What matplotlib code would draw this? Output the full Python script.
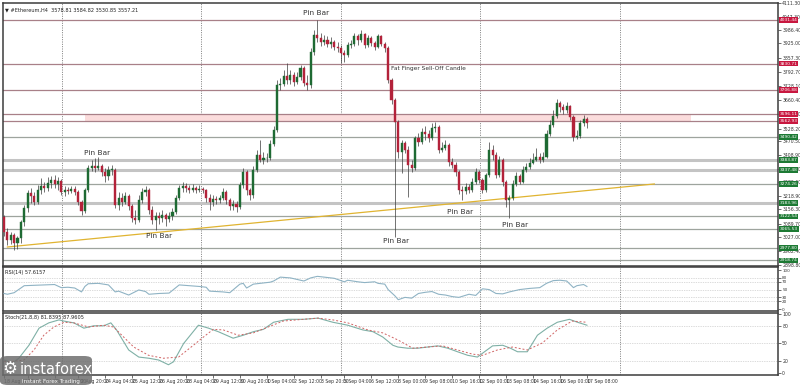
import numpy as np
import matplotlib
matplotlib.use("Agg")
import matplotlib.pyplot as plt
import matplotlib.transforms as mtransforms
from matplotlib.patches import FancyBboxPatch

########################################################
# DATA  (Ethereum H4, prices)
########################################################

first_open = 3120

closes = [
    3051, 3014, 3037, 3000, 3023, 3097, 3162, 3231, 3218, 3190,
    3245, 3264, 3255, 3278, 3292, 3273, 3287, 3236, 3245, 3241,
    3250, 3236, 3190, 3148, 3245, 3347, 3356, 3347, 3356, 3329,
    3310, 3338, 3338, 3176, 3208, 3190, 3218, 3171, 3116, 3106,
    3199, 3236, 3245, 3153, 3106, 3125, 3116, 3130, 3111, 3125,
    3144, 3208, 3255, 3264, 3255, 3245, 3255, 3245, 3250, 3245,
    3208, 3190, 3204, 3199, 3208, 3236, 3199, 3171, 3180, 3167,
    3268, 3329, 3245, 3222, 3338, 3407, 3384, 3393, 3393, 3458,
    3523, 3731, 3736, 3773, 3755, 3778, 3745, 3769, 3810, 3741,
    3731, 3884, 3963, 3949, 3931, 3940, 3921, 3931, 3907, 3903,
    3880, 3870, 3917, 3921, 3958, 3940, 3968, 3917, 3949, 3926,
    3907, 3958, 3921, 3903, 3755, 3662, 3560, 3421, 3463, 3431,
    3361, 3347, 3486, 3468, 3514, 3505, 3486, 3532, 3537, 3431,
    3440, 3454, 3375, 3361, 3329, 3245, 3241, 3259, 3245, 3282,
    3329, 3292, 3245, 3315, 3431, 3407, 3315, 3384, 3282, 3199,
    3208, 3273, 3310, 3282, 3338, 3352, 3370, 3384, 3398, 3384,
    3398, 3505, 3546, 3588, 3648, 3630, 3616, 3634, 3583, 3491,
    3495, 3556, 3574, 3557]

highs = [
    3130, 3069, 3051, 3046, 3032, 3106, 3176, 3245, 3255, 3236,
    3268, 3301, 3282, 3306, 3310, 3315, 3306, 3296, 3264, 3259,
    3264, 3264, 3245, 3199, 3255, 3361, 3384, 3393, 3398, 3366,
    3347, 3356, 3361, 3347, 3236, 3231, 3236, 3227, 3180, 3153,
    3222, 3255, 3264, 3255, 3171, 3144, 3144, 3153, 3139, 3144,
    3162, 3222, 3268, 3282, 3278, 3268, 3273, 3264, 3268, 3259,
    3250, 3227, 3222, 3218, 3222, 3255, 3245, 3208, 3199, 3194,
    3282, 3347, 3338, 3255, 3356, 3431, 3477, 3421, 3417, 3477,
    3542, 3755, 3764, 3801, 3833, 3801, 3792, 3792, 3824, 3819,
    3778, 3903, 3986, 4032, 3972, 3963, 3958, 3954, 3940, 3931,
    3917, 3894, 3931, 3940, 3972, 3968, 3986, 3972, 3963, 3958,
    3935, 3968, 3963, 3931, 3912, 3764, 3671, 3569, 3477, 3472,
    3449, 3384, 3495, 3509, 3532, 3542, 3523, 3556, 3560, 3546,
    3468, 3477, 3463, 3393, 3375, 3338, 3264, 3278, 3273, 3301,
    3347, 3338, 3301, 3324, 3468, 3454, 3421, 3403, 3393, 3292,
    3222, 3292, 3329, 3319, 3356, 3370, 3393, 3417, 3440, 3417,
    3421, 3523, 3569, 3616, 3667, 3657, 3643, 3653, 3639, 3593,
    3523, 3569, 3593, 3585]

lows = [
    3032, 2991, 2995, 2967, 2972, 3000, 3079, 3144, 3185, 3176,
    3180, 3227, 3236, 3241, 3255, 3255, 3245, 3222, 3218, 3227,
    3231, 3222, 3176, 3130, 3139, 3236, 3333, 3329, 3338, 3310,
    3282, 3292, 3315, 3162, 3153, 3171, 3180, 3153, 3097, 3088,
    3097, 3185, 3218, 3134, 3088, 3060, 3088, 3097, 3079, 3097,
    3106, 3134, 3199, 3236, 3236, 3231, 3236, 3231, 3236, 3231,
    3190, 3153, 3171, 3180, 3185, 3199, 3180, 3153, 3153, 3144,
    3157, 3255, 3222, 3199, 3208, 3329, 3375, 3366, 3375, 3384,
    3449, 3514, 3708, 3727, 3736, 3736, 3727, 3736, 3755, 3727,
    3708, 3718, 3870, 3931, 3912, 3917, 3907, 3903, 3894, 3884,
    3833, 3838, 3861, 3903, 3912, 3917, 3931, 3903, 3907, 3912,
    3894, 3903, 3912, 3884, 3741, 3643, 3028, 3393, 3324, 3417,
    3213, 3329, 3338, 3449, 3458, 3477, 3468, 3477, 3514, 3417,
    3421, 3431, 3356, 3347, 3310, 3227, 3199, 3227, 3231, 3236,
    3273, 3278, 3231, 3236, 3306, 3384, 3301, 3306, 3264, 3167,
    3116, 3199, 3264, 3273, 3278, 3329, 3343, 3366, 3380, 3370,
    3375, 3393, 3495, 3537, 3579, 3606, 3597, 3602, 3569, 3472,
    3481, 3486, 3542, 3531]

# horizontal levels
resistance_levels = [4031.44, 3830.71, 3706.88, 3596.11, 3562.93]
support_levels = [3490.42, 3383.87, 3337.48, 3274.26, 3183.96,
                  3122.54, 3065.53, 2977.80, 2918.74]
wide_levels = [3383.87, 3337.48, 3183.96]
zone_low, zone_high = 3562.93, 3596.11
zone_start, zone_end = 24, 204

# trend line (bar index, price)
trend_x = [1, 193]
trend_y = [2981, 3273]

# price axis
price_ticks = [4111.30, 4047.30, 3986.40, 3925.00, 3857.30, 3792.70,
               3728.10, 3660.40, 3596.00, 3528.20, 3470.50, 3408.90,
               3343.30, 3280.60, 3218.90, 3156.30, 3089.70, 3027.00,
               2962.40, 2898.80]

# time axis
time_labels = ["18 Aug 2021", "20 Aug 04:00", "21 Aug 12:00", "22 Aug 20:00",
               "24 Aug 04:00", "25 Aug 12:00", "26 Aug 20:00", "28 Aug 04:00",
               "29 Aug 12:00", "30 Aug 20:00", "1 Sep 04:00", "2 Sep 12:00",
               "3 Sep 20:00", "5 Sep 04:00", "6 Sep 12:00", "8 Sep 00:00",
               "9 Sep 08:00", "10 Sep 16:00", "12 Sep 00:00", "13 Sep 08:00",
               "14 Sep 16:00", "16 Sep 00:00", "17 Sep 08:00"]
time_pos = [0, 7, 15, 22, 30, 38, 46, 54, 62, 70, 78, 86, 94, 101, 109,
            117, 125, 133, 141, 149, 157, 165, 173]
week_lines = [17.2, 58.6, 100, 141.4, 182.8]

# RSI(14)
rsi_idx = [0, 1, 3, 5, 6, 9, 12, 15, 17, 19, 21, 23, 24, 25, 28, 31, 33, 34,
           37, 40, 42, 43, 46, 49, 51, 52, 55, 58, 60, 61, 63, 65, 67, 70,
           71, 72, 74, 76, 79, 80, 82, 85, 88, 89, 91, 93, 95, 98, 101, 102,
           105, 107, 110, 111, 113, 114, 116, 117, 119, 121, 123, 125, 127,
           129, 131, 133, 135, 138, 140, 142, 144, 146, 148, 150, 153, 156,
           159, 161, 163, 165, 167, 169, 170, 172, 173]
rsi_val = [40, 38, 42, 54, 60, 61, 62, 63, 55, 56, 54, 44, 58, 65, 66, 62,
           44, 46, 36, 49, 45, 38, 40, 41, 55, 62, 60, 58, 56, 46, 45, 44,
           42, 64, 66, 54, 64, 66, 69, 72, 82, 80, 74, 72, 80, 84, 82, 79,
           70, 74, 70, 68, 70, 66, 64, 50, 34, 24, 30, 28, 40, 43, 45, 38,
           36, 32, 30, 38, 35, 52, 50, 40, 39, 44, 50, 53, 55, 66, 73, 74,
           72, 55, 60, 63, 58]

# Stochastic(21,8,8)
stoch_idx = [0, 1.5, 3, 4.4, 7.4, 10.4, 13.3, 16.3, 17.8, 20.7, 23.7, 26.6,
             29.6, 31.7, 33.4, 37, 40, 43, 45.9, 48.8, 50.3, 53.3, 57.7,
             60.7, 63.6, 68, 71, 74, 77, 80, 84.3, 88.8, 93.2, 97.6, 102,
             106.5, 109.5, 112.4, 115.4, 116.9, 119.8, 122.8, 125.7, 128.7,
             131.7, 134.6, 137.6, 140.5, 142.6, 145, 148, 150.3, 152.4,
             155.3, 158.3, 161.2, 164.2, 167.8, 170.2, 173]
stoch_main = [22, 19, 19, 25, 47, 76, 85, 90, 88, 85, 76, 80, 80, 85, 73, 39,
              27, 25, 22, 14, 19, 50, 81, 76, 70, 59, 64, 70, 74, 86, 91, 91,
              93, 86, 81, 73, 70, 61, 47, 44, 42, 42, 44, 46, 42, 36, 30, 27,
              36, 46, 47, 42, 36, 36, 64, 76, 86, 91, 86, 81]
sig_idx = [0, 1.5, 5.9, 8.9, 11.8, 14.8, 17.8, 20.7, 25.1, 29.6, 32.5, 35.5,
           38.5, 42.9, 47.3, 51.8, 56.2, 59.2, 62.1, 65.1, 69.5, 74, 78.4,
           82.8, 88.8, 93.2, 97.6, 102, 108, 112.4, 116.9, 121.3, 125.7,
           130.2, 134.6, 139, 142, 146.4, 150.9, 155.3, 159.8, 164.2, 168.6,
           173]
sig_val = [20, 19, 22, 39, 64, 78, 86, 85, 78, 81, 78, 61, 44, 30, 25, 27, 47,
           61, 74, 73, 64, 68, 78, 88, 91, 93, 90, 85, 73, 68, 56, 42, 44, 46,
           39, 32, 30, 39, 44, 39, 51, 73, 88, 86]

# annotations: (bar index, price)
pin_bars = [(27.5, 3417), (45.9, 3032), (92.6, 4065),
            (116.3, 3009), (135.2, 3144), (151.8, 3083)]

########################################################
# FIGURE
########################################################

plt.rcParams['font.family'] = ['DejaVu Sans']

fig = plt.figure(figsize=(8, 3.85), dpi=100)
fig.patch.set_facecolor("white")

X_LEFT, X_RIGHT = -0.3, 229.7
frame_col = "#3c3c3c"

ax = fig.add_axes([3 / 800, 1 - 266 / 385, 775 / 800, 263 / 385])
ax_rsi = fig.add_axes([3 / 800, 1 - 311 / 385, 775 / 800, 44 / 385])
ax_st = fig.add_axes([3 / 800, 1 - 375 / 385, 775 / 800, 62 / 385])

for a in (ax, ax_rsi, ax_st):
    a.set_xlim(X_LEFT, X_RIGHT)
    for s in a.spines.values():
        s.set_color(frame_col)
        s.set_linewidth(1.1)
    a.yaxis.tick_right()
    a.tick_params(axis="y", labelsize=3.3, length=2, width=0.5, pad=1,
                  colors="#333333")
    a.tick_params(axis="x", bottom=False, labelbottom=False)
    for w in week_lines:
        a.axvline(w, color="#6a6a6a", lw=0.6, ls=(0, (1.2, 1.6)), zorder=1)

########################################################
# MAIN PANEL
########################################################

ax.set_ylim(2893, 4111)
ax.set_yticks(price_ticks)
ax.set_yticklabels([f"{v:.2f}" for v in price_ticks])

ax.fill_between([zone_start, zone_end], zone_low, zone_high,
                color="#fbdcdc", zorder=1, lw=0)

for lv in resistance_levels:
    ax.axhline(lv, color="#a88088", lw=0.9, zorder=2)
for lv in support_levels:
    if lv in wide_levels:
        ax.axhline(lv, color="#c4c4c4", lw=2.2, zorder=2)
    else:
        ax.axhline(lv, color="#9ea49e", lw=0.9, zorder=2)

ax.plot(trend_x, trend_y, color="#e0b431", lw=0.9, zorder=3)

o = np.array([first_open] + closes[:-1], dtype=float)
c = np.array(closes, dtype=float)
h = np.array(highs, dtype=float)
l = np.array(lows, dtype=float)
x = np.arange(len(c))
up = c >= o

ax.vlines(x, l, h, color="#3a3a3a", lw=0.5, zorder=4)
body = np.maximum(np.abs(c - o), 2.5)
ax.bar(x[up], body[up], bottom=o[up], width=0.62, color="#1e6a33",
       edgecolor="#1e6a33", lw=0.3, zorder=5)
ax.bar(x[~up], body[~up], bottom=c[~up], width=0.62, color="#b3223a",
       edgecolor="#b3223a", lw=0.3, zorder=5)

for px, py in pin_bars:
    ax.text(px, py, "Pin Bar", fontsize=5.3, color="#333333",
            ha="center", va="center", zorder=6)
ax.text(114.8, 3810, "Fat Finger Sell-Off Candle", fontsize=4.2,
        color="#333333", ha="left", va="center", zorder=6)

ax.text(0.003, 0.985, "\u25bc #Ethereum,H4  3578.81 3584.82 3530.85 3557.21",
        transform=ax.transAxes, fontsize=3.6, color="#222222",
        ha="left", va="top")

# coloured level tags on the price axis
tag_tr = mtransforms.blended_transform_factory(ax.transAxes, ax.transData)
for lv in resistance_levels:
    ax.text(1.002, lv, f"{lv:.2f}", transform=tag_tr, fontsize=3.2,
            color="white", ha="left", va="center", clip_on=False, zorder=10,
            bbox=dict(boxstyle="square,pad=0.2", fc="#c8173f", ec="none"))
for lv in support_levels:
    ax.text(1.002, lv, f"{lv:.2f}", transform=tag_tr, fontsize=3.2,
            color="white", ha="left", va="center", clip_on=False, zorder=10,
            bbox=dict(boxstyle="square,pad=0.2", fc="#1d7a34", ec="none"))

########################################################
# RSI PANEL
########################################################

ax_rsi.set_ylim(-5, 108)
ax_rsi.set_yticks([100, 80, 70, 50, 30, 20, 0])
ax_rsi.set_yticklabels(["100", "80", "70", "50", "30", "20", "0"])
ax_rsi.tick_params(axis="y", labelsize=3.0)
for lv in (80, 70, 50, 30, 20):
    ax_rsi.axhline(lv, color="#b8b8b8", lw=0.5, ls=(0, (1, 1.5)))
ax_rsi.plot(rsi_idx, rsi_val, color="#8fb3c4", lw=0.8, zorder=3)
ax_rsi.text(0.003, 0.93, "RSI(14) 57.6157", transform=ax_rsi.transAxes,
            fontsize=3.6, color="#222222", ha="left", va="top")

########################################################
# STOCHASTIC PANEL
########################################################

ax_st.set_ylim(-3.4, 101.7)
ax_st.set_yticks([100, 80, 50, 20, 0])
ax_st.set_yticklabels(["100", "80", "50", "20", "0"])
for lv in (80, 50, 20):
    ax_st.axhline(lv, color="#b8b8b8", lw=0.5, ls=(0, (1, 1.5)))
ax_st.plot(stoch_idx, stoch_main, color="#7fb0a6", lw=0.8, zorder=3)
ax_st.plot(sig_idx, sig_val, color="#d06464", lw=0.7, ls=(0, (2, 2)),
           zorder=3)
ax_st.text(0.003, 0.97, "Stoch(21,8,8) 81.8395 87.9605",
           transform=ax_st.transAxes, fontsize=3.6, color="#222222",
           ha="left", va="top")

# time axis labels
ax_st.tick_params(axis="x", bottom=True, labelbottom=True, length=2,
                  width=0.5, pad=1, labelsize=3.3, colors="#333333")
ax_st.set_xticks(time_pos)
ax_st.set_xticklabels(time_labels)
for lab in ax_st.get_xticklabels():
    lab.set_horizontalalignment("left")

########################################################
# LOGO
########################################################

logo = FancyBboxPatch((0.0, 0.0), 92 / 800, 29 / 385,
                      boxstyle="round,pad=0,rounding_size=0.01",
                      transform=fig.transFigure, fc="#6e6e6e", ec="none",
                      alpha=0.85, zorder=20)
fig.patches.append(logo)
fig.text(10 / 800, 1 - 369 / 385, "\u2699", fontsize=12, color="white",
         ha="center", va="center", zorder=21)
fig.text(20 / 800, 1 - 369 / 385, "instaforex", fontsize=10.5,
         color="white", ha="left", va="center", zorder=21)
fig.text(22 / 800, 1 - 381 / 385, "Instant Forex Trading", fontsize=4,
         color="white", ha="left", va="center", zorder=21)

fig.savefig("out.png", dpi=100, facecolor="white")
